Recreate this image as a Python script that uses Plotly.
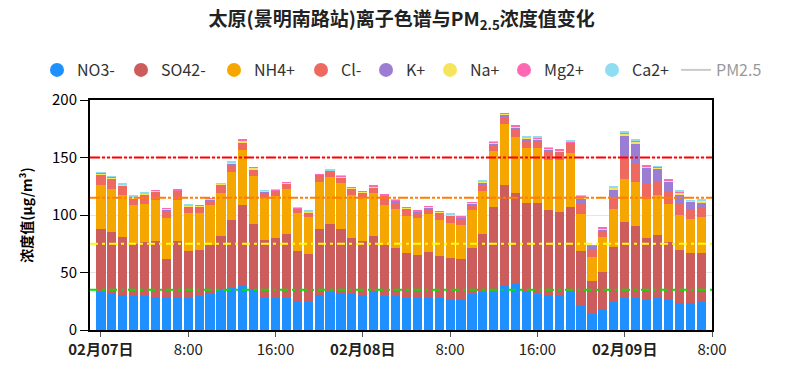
import pandas as pd
import plotly.graph_objects as go

# hourly timestamps: 2月7日 00:00 -> 2月9日 07:00
times = pd.date_range("2024-02-07 00:00", periods=56, freq="h")

no3 = [33.3, 31.8, 30.4, 29.2, 29.2, 28.9, 28.9, 28.9, 28.0, 29.2,
       32.1, 34.4, 36.8, 37.9, 35.3, 28.9, 28.0, 28.0, 24.0, 24.0,
       30.4, 33.3, 32.1, 31.5, 30.4, 33.6, 29.8, 29.2, 28.0, 28.0,
       28.0, 27.5, 26.3, 26.3, 31.5, 33.3, 33.3, 37.9, 39.7, 33.8,
       31.5, 30.4, 30.4, 33.6, 21.1, 13.8, 17.0, 24.5, 28.0, 27.5,
       25.7, 27.5, 25.7, 23.7, 23.7, 24.5]
so4 = [54.6, 53.7, 50.8, 45.3, 47.1, 48.5, 32.8, 48.2, 40.6, 40.0,
       41.8, 47.7, 58.9, 71.2, 56.6, 49.7, 51.7, 55.8, 44.7, 41.8,
       57.5, 58.9, 55.8, 48.8, 47.3, 47.9, 43.8, 41.8, 38.7, 36.9,
       39.5, 36.8, 36.6, 35.4, 39.8, 50.5, 74.0, 88.0, 79.0, 77.0,
       79.3, 73.7, 72.0, 73.4, 47.6, 28.5, 33.7, 47.7, 65.9, 62.7,
       54.6, 55.4, 50.8, 45.9, 43.3, 42.5]
nh4 = [38.0, 36.9, 36.0, 34.6, 33.6, 35.5, 35.5, 35.8, 32.9, 32.3,
       34.6, 36.9, 42.1, 47.3, 41.9, 36.0, 36.4, 38.6, 32.8, 32.2,
       40.6, 40.7, 39.8, 37.2, 36.9, 37.2, 34.9, 34.0, 32.2, 32.3,
       33.2, 31.1, 30.2, 29.4, 32.8, 36.9, 48.0, 53.2, 49.4, 47.4,
       47.4, 43.9, 45.6, 46.5, 32.0, 20.9, 30.5, 32.8, 37.8, 38.3,
       33.4, 34.6, 32.9, 30.2, 29.3, 31.3]
cl = [8.4, 8.5, 8.2, 5.0, 7.6, 7.2, 6.9, 8.1, 5.5, 5.8,
      4.4, 7.2, 6.4, 6.4, 5.8, 5.2, 4.9, 5.0, 3.5, 4.1,
      6.1, 5.2, 4.9, 4.9, 4.7, 5.2, 8.1, 5.8, 5.8, 4.3,
      4.9, 5.8, 6.1, 5.2, 4.7, 6.1, 5.8, 6.7, 6.7, 6.4,
      5.5, 7.3, 7.0, 8.7, 9.3, 6.4, 4.4, 10.5, 17.5, 16.6,
      14.0, 11.6, 11.0, 10.2, 8.4, 7.6]
k = [0.5, 0.8, 0.4, 0.6, 0.5, 0.3, 0.4, 0.3, 0.5, 0.3,
     0.5, 0.3, 0.3, 0.2, 0.3, 0.3, 0.3, 0.3, 0.4, 0.3,
     0.4, 0.3, 0.3, 0.3, 0.4, 0.3, 0.3, 1.5, 0.6, 1.2,
     1.2, 1.0, 0.5, 1.5, 1.2, 1.5, 1.5, 1.5, 1.2, 1.7,
     1.7, 1.7, 0.6, 0.5, 4.6, 3.5, 2.0, 7.0, 19.8, 17.4,
     13.6, 11.0, 8.7, 8.1, 7.0, 5.2]
na = [1.2, 1.2, 0.8, 1.2, 0.5, 1.0, 1.0, 0.4, 0.8, 0.5,
      0.8, 0.5, 1.2, 2.2, 1.2, 0.8, 0.3, 0.5, 0.5, 0.3,
      0.3, 0.5, 1.0, 0.8, 0.7, 0.8, 0.3, 0.5, 0.8, 0.5,
      0.5, 0.5, 0.5, 0.4, 0.6, 0.5, 0.8, 0.8, 1.0, 0.7,
      1.0, 0.8, 0.7, 0.7, 0.8, 0.5, 0.6, 1.2, 1.5, 1.4,
      1.2, 1.2, 1.2, 1.5, 0.6, 1.2]
mg = [0.8, 0.3, 0.2, 0.5, 0.2, 0.2, 0.4, 1.0, 0.2, 0.1,
      0.4, 0.2, 0.3, 0.2, 0.2, 0.2, 0.2, 0.3, 0.2, 0.2,
      0.2, 0.2, 0.3, 0.3, 0.3, 0.3, 0.6, 0.8, 0.3, 0.4,
      0.3, 0.2, 0.2, 0.7, 0.5, 0.3, 0.3, 0.3, 0.4, 0.3,
      0.6, 0.5, 0.4, 0.3, 1.2, 0.3, 0.8, 0.5, 1.2, 0.5,
      0.9, 0.7, 1.4, 0.5, 0.4, 0.6]
ca = [0.2, 0.3, 0.6, 0.3, 0.8, 0.0, 0.0, 0.0, 0.6, 0.0,
      0.0, 0.5, 0.3, 0.0, 0.0, 0.2, 0.6, 0.0, 0.1, 0.7,
      0.0, 0.8, 0.2, 0.0, 0.0, 0.0, 0.0, 0.3, 0.0, 0.0,
      0.0, 0.0, 0.8, 0.0, 0.0, 0.9, 0.6, 0.0, 0.0, 1.0,
      1.0, 0.5, 0.0, 0.9, 0.3, 0.0, 0.0, 1.0, 0.6, 1.2,
      0.0, 0.3, 0.0, 1.0, 0.2, 0.4]

series_names = ["NO3-", "SO42-", "NH4+", "Cl-", "K+", "Na+", "Mg2+", "Ca2+"]
series_vals = [no3, so4, nh4, cl, k, na, mg, ca]
series_colors = ["#1E90FF", "#CD5C5C", "#F5A700", "#EE6A60",
                 "#9B7DD4", "#F5E45E", "#FF69B4", "#8FDDF0"]

# reference lines (PM2.5 standard levels)
levels = [150, 115, 75, 35]
level_colors = ["#FF0000", "#FF7E00", "#FFFF00", "#00E400"]
level_dash = ["10px,2px,3px,2px,3px,2px", "10px,2px,3px,2px,3px,2px",
              "8px,4px,3px,4px", "8px,4px,3px,4px"]

tick_vals = ["2024-02-07 00:00", "2024-02-07 08:00", "2024-02-07 16:00",
             "2024-02-08 00:00", "2024-02-08 08:00", "2024-02-08 16:00",
             "2024-02-09 00:00", "2024-02-09 08:00"]
tick_text = ["<b>02月07日</b>", "8:00", "16:00", "<b>02月08日</b>", "8:00",
             "16:00", "<b>02月09日</b>", "8:00"]

FONT = "Noto Sans CJK SC"
W, H = 792, 370

# legend entries placed one per legend box (screen x of each symbol centre)
legend_sym_x = [57, 141, 234, 321, 386, 450, 524, 612, 696]
legend_ids = ["legend"] + ["legend%d" % i for i in range(2, 10)]

fig = go.Figure()

for name, vals, col in zip(series_names, series_vals, series_colors):
    fig.add_trace(go.Bar(x=times, y=vals, name=name, marker_color=col,
                         marker_line_width=0, showlegend=False))
for i, (name, col) in enumerate(zip(series_names, series_colors)):
    fig.add_trace(go.Scatter(x=[None], y=[None], mode="markers", name=name,
                             legend=legend_ids[i],
                             marker=dict(symbol="circle", size=14, color=col)))
fig.add_trace(go.Scatter(x=[None], y=[None], mode="lines", name="PM2.5",
                         legend=legend_ids[8], visible="legendonly",
                         line=dict(color="#999999", width=2)))

for lv, lc, ld in zip(levels, level_colors, level_dash):
    fig.add_shape(type="line", xref="paper", x0=0, x1=1, yref="y", y0=lv, y1=lv,
                  line=dict(color=lc, width=2, dash=ld), layer="above")

legend_layout = {}
for lid, sx in zip(legend_ids, legend_sym_x):
    legend_layout[lid] = dict(
        orientation="h", xref="container", x=(sx - 8 - 20) / W, xanchor="left",
        yref="container", y=1 - 62 / H, yanchor="middle",
        font=dict(family=FONT, size=16, color="#333333"),
        itemwidth=30, bgcolor="rgba(0,0,0,0)")

fig.update_layout(
    width=W, height=H,
    margin=dict(l=82, r=88, t=92, b=48, autoexpand=False),
    plot_bgcolor="white", paper_bgcolor="white",
    barmode="stack", bargap=0.16,
    font=dict(family=FONT, size=14, color="#333333"),
    title=dict(text="<b>太原(景明南路站)离子色谱与PM<sub>2.5</sub>浓度值变化</b>",
               x=0.497, xanchor="center", y=1 - 11 / H, yanchor="middle",
               font=dict(family=FONT, size=19, color="#222222")),
    showlegend=True,
    **legend_layout,
)
fig.update_xaxes(
    range=["2024-02-06 23:00", "2024-02-09 08:00"],
    tickvals=tick_vals, ticktext=tick_text, tickangle=0,
    showgrid=False, showline=True, linecolor="#000000", linewidth=2, mirror=True,
    ticks="outside", ticklen=5, tickcolor="#555555",
    tickfont=dict(family=FONT, size=15, color="#222222"),
)
fig.update_yaxes(
    range=[0, 200], dtick=50,
    showgrid=True, gridcolor="#E6E6E6", gridwidth=1,
    showline=True, linecolor="#000000", linewidth=2, mirror=True,
    ticks="outside", ticklen=8, tickcolor="#000000",
    tickfont=dict(family=FONT, size=15, color="#000000"),
    title=dict(text="<b>浓度值(μg/m³)</b>", font=dict(family=FONT, size=14, color="#000000"),
               standoff=16),
    zeroline=False,
)

fig.write_html("out.html")
